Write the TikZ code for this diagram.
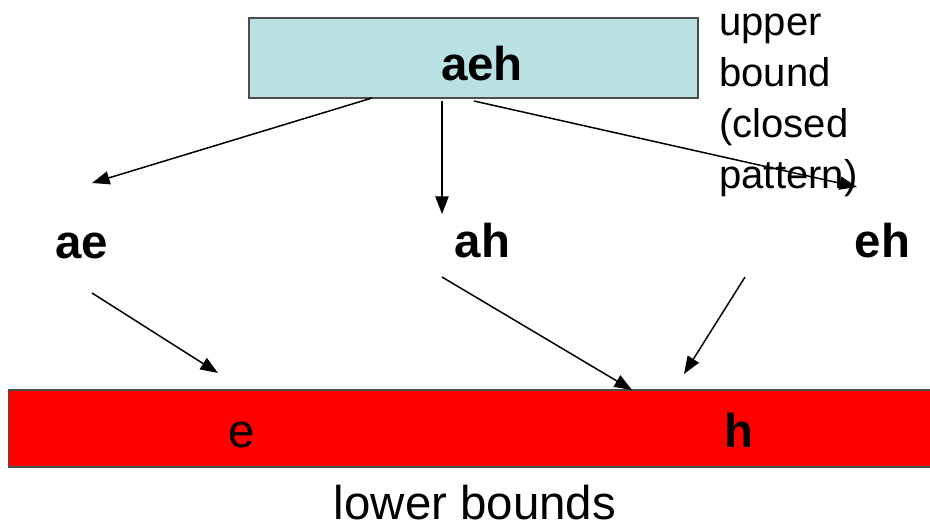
\documentclass[tikz,border=0pt]{standalone}
\usepackage{fontspec}
\setmainfont{Liberation Sans}
\usetikzlibrary{arrows.meta}

\definecolor{upperblue}{RGB}{185,224,226}
\definecolor{lowerred}{RGB}{255,0,0}

\tikzset{
  setbox/.style = {draw=black!70, line width=1pt, inner sep=0pt},
  setname/.style = {anchor=base, inner sep=0pt, font=\fontsize{27}{32}\selectfont\bfseries},
  plaintext/.style = {anchor=base, inner sep=0pt, font=\fontsize{27}{32}\selectfont},
  arr/.style = {-{Triangle[length=10pt,width=7.5pt]}, line width=0.85pt}
}

\begin{document}
\begin{tikzpicture}[x=0.02cm, y=-0.02cm]
	\useasboundingbox (0,0) rectangle (930,528);

	% upper bound
	\node[setbox, fill=upperblue, minimum width=8.98cm, minimum height=1.6cm] (top) at (473.5,58) {};
	\node[setname] (aeh) at (482,80) {aeh};
	\node[anchor=base west, align=left, inner sep=0pt, font=\fontsize{22.8}{29}\selectfont] (ub) at (719,188) {upper\\bound\\(closed\\pattern)};

	% middle layer
	\node[setname] (ae) at (81.5,258) {ae};
	\node[setname] (ah) at (482.5,257) {ah};
	\node[setname] (eh) at (882.5,257) {eh};

	% lower bounds
	\node[setbox, fill=lowerred, minimum width=18.7cm, minimum height=1.54cm] (bottom) at (476,428.5) {};
	\node[plaintext] (e) at (242,447) {e};
	\node[setname] (h) at (739,447) {h};
	\node[plaintext] (lb) at (475,519) {lower bounds};

	% arrow ends
	\coordinate (t1) at (372,98);
	\coordinate (t2) at (442,101);
	\coordinate (t3) at (474,101);
	\coordinate (m1) at (92,183);
	\coordinate (m2) at (442,214);
	\coordinate (m3) at (857,187);
	\coordinate (s1) at (92,293);
	\coordinate (s2) at (442,277);
	\coordinate (s3) at (745,277);
	\coordinate (d1) at (218,373);
	\coordinate (d2) at (632,390);
	\coordinate (d3) at (684,374);

	\draw[arr] (t1) -- (m1);
	\draw[arr] (t2) -- (m2);
	\draw[arr] (t3) -- (m3);
	\draw[arr] (s1) -- (d1);
	\draw[arr] (s2) -- (d2);
	\draw[arr] (s3) -- (d3);
\end{tikzpicture}
\end{document}
